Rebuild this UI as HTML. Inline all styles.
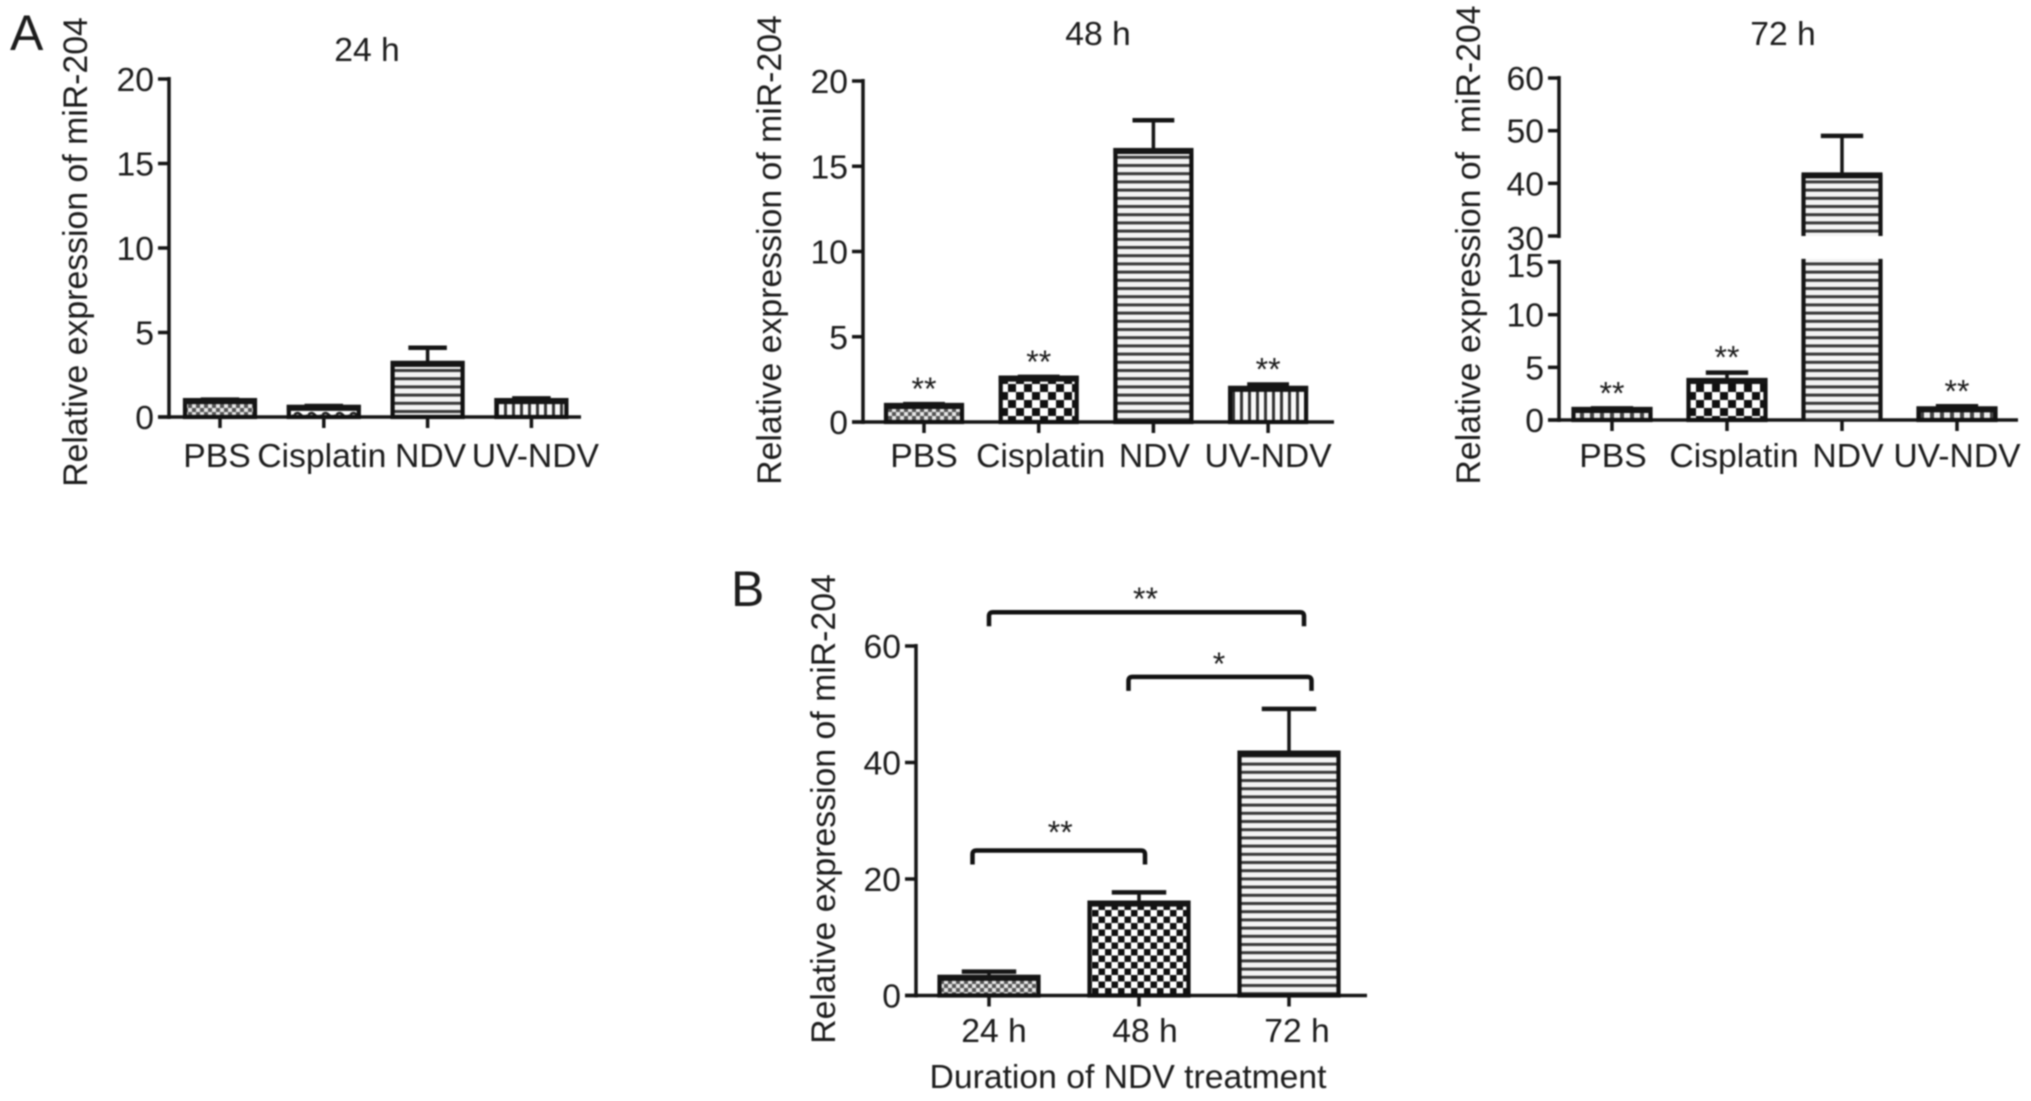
<!DOCTYPE html>
<html lang="en">
<head>
<meta charset="utf-8">
<title>Relative expression of miR-204</title>
<style>
html,body{margin:0;padding:0;background:#fff;width:2031px;height:1101px;overflow:hidden}
svg{display:block;filter:blur(.8px)}
text{font-family:"Liberation Sans",sans-serif;fill:#1c1c1c}
</style>
</head>
<body>
<svg id="figure" xmlns="http://www.w3.org/2000/svg" width="2031" height="1101" viewBox="0 0 2031 1101">
  <defs>
    <pattern id="fine" width="8" height="8" patternUnits="userSpaceOnUse"><rect width="8" height="8" fill="#e6e6e6"/><rect width="4" height="4" fill="#555"/><rect x="4" y="4" width="4" height="4" fill="#555"/></pattern>
    <pattern id="wave" width="14" height="10" patternUnits="userSpaceOnUse"><rect width="14" height="10" fill="#fff"/><path d="M0 5Q3.5 1 7 5T14 5" fill="none" stroke="#222" stroke-width="2.5"/></pattern>
    <pattern id="hlines" width="10" height="8.2" patternUnits="userSpaceOnUse"><rect width="10" height="8.2" fill="#f4f4f4"/><rect width="10" height="3" fill="#383838"/></pattern>
    <pattern id="vlines" width="8" height="10" patternUnits="userSpaceOnUse"><rect width="8" height="10" fill="#fafafa"/><rect width="3" height="10" fill="#333"/></pattern>
    <pattern id="check" width="16" height="16" patternUnits="userSpaceOnUse"><rect width="16" height="16" fill="#fff"/><rect width="8" height="8" fill="#111"/><rect x="8" y="8" width="8" height="8" fill="#111"/></pattern>
    <pattern id="checkB" width="13" height="13" patternUnits="userSpaceOnUse"><rect width="13" height="13" fill="#fff"/><rect width="6.5" height="6.5" fill="#111"/><rect x="6.5" y="6.5" width="6.5" height="6.5" fill="#111"/></pattern>
    <pattern id="vfine" width="10" height="8" patternUnits="userSpaceOnUse"><rect width="10" height="8" fill="#f0f0f0"/><rect width="4" height="8" fill="#444"/></pattern>
  </defs>
  <text x="10" y="50" font-size="50">A</text>
  <text x="731" y="606" font-size="50">B</text>
</svg>
<script>
// ---------- chart data ----------
const categoriesA = ["PBS", "Cisplatin", "NDV", "UV-NDV"];
const means24 = [1.0, 0.6, 3.2, 1.0];
const uppers24 = [1.03, 0.65, 4.1, 1.1];
const means48 = [1.0, 2.6, 15.95, 2.0];
const uppers48 = [1.05, 2.65, 17.7, 2.2];
const means72 = [1.05, 3.8, 41.7, 1.1];
const uppers72 = [1.1, 4.5, 49.0, 1.3];
const ticks24 = [0, 5, 10, 15, 20];
const ticks48 = [0, 5, 10, 15, 20];
const ticks72 = [0, 5, 10, 15, 30, 40, 50, 60];
const categoriesB = ["24 h", "48 h", "72 h"];
const meansB = [3.2, 15.95, 41.7];
const uppersB = [4.1, 17.7, 49.2];
const ticksB = [0, 20, 40, 60];
const significance48 = ["**", "**", "", "**"];
const significance72 = ["**", "**", "", "**"];
const bracketStarts = [0, 0.93, -0.11];
const bracketEnds = [2.1, 2.15, 1.04];
const bracketLevels = [65.8, 54.7, 24.9];
const bracketLabels = ["**", "*", "**"];

// ---------- helpers ----------
const svg = document.getElementById('figure');
const NS = 'http://www.w3.org/2000/svg';
function make(tag, props, parent) {
  const e = document.createElementNS(NS, tag);
  for (const k in props) e.setAttribute(k, props[k]);
  (parent || svg).appendChild(e);
  return e;
}
function line(parent, x1, y1, x2, y2, w) {
  return make('line', {x1: x1, y1: y1, x2: x2, y2: y2, stroke: '#151515', 'stroke-width': w}, parent);
}

function drawPanel(p) {
  const g = make('g', {});
  
  
  const x = i => p.x0 + i * p.step;
  const y = p.y;

  // y axis line(s)
  p.axisSegments.forEach(seg => {
    const a = line(g, p.axisX, y(seg[0]) + 2, p.axisX, y(seg[1]) - 2, 3.5);
    
    
  });
  // x axis line
  const xa = line(g, p.axisX - 11, y(0), p.xEnd, y(0), 3.5);
  
  

  // y ticks
  p.ticks.forEach(v => {
    const t = line(g, p.axisX - 11, y(v), p.axisX, y(v), 3.5);
    
    
    const l = make('text', {x: p.axisX - 15, y: y(v) + 12 + (p.tickDy ? p.tickDy(v) : 0), 'font-size': 33.7, 'text-anchor': 'end'}, g);
    
    
    l.textContent = v;
  });

  // bars
  p.categories.forEach((c, i) => {
    const cx = x(i), left = cx - p.barW / 2, fill = 'url(#' + p.patterns[i] + ')';
    p.barSegments(p.means[i]).forEach(seg => {
      const top = y(seg[1]), bottom = y(seg[0]);
      const r = make('rect', {x: left, y: top, width: p.barW, height: Math.max(bottom - top, 0), fill: fill, stroke: '#111', 'stroke-width': seg[2] ? 0 : 4.2}, g);
      
      
      if (seg[2]) {
        const sideL = line(g, left, top, left, bottom, 4.2);
        
        
        const sideR = line(g, left + p.barW, top, left + p.barW, bottom, 4.2);
        
        
      }
      if (seg[1] === p.means[i]) {
        const topEdge = line(g, left - 2, top + 1, left + p.barW + 2, top + 1, 6);
        
        
      }
    });
    // error bar
    const capW = p.barW * 0.55, ey = y(p.uppers[i]);
    const stem = line(g, cx, y(p.means[i]), cx, ey, 3.5);
    
    
    const cap = line(g, cx - capW / 2, ey, cx + capW / 2, ey, 4.5);
    
    
    // x tick
    const xt = line(g, cx, y(0), cx, y(0) + 11, 3.5);
    
    
    // x label
    const xl = make('text', {x: cx + p.labelDx[i], y: p.labelY, 'font-size': 33.7, 'text-anchor': 'middle'}, g);
    
    
    xl.textContent = c;
    // significance
    if (p.significance && p.significance[i]) {
      const s = make('text', {x: cx, y: ey - 4, 'font-size': 32, 'text-anchor': 'middle'}, g);
      
      
      s.textContent = p.significance[i];
    }
  });

  // y axis title
  const yt = make('text', {transform: 'translate(' + p.yTitle[0] + ',' + p.yTitle[1] + ') rotate(-90)', 'font-size': 33.8, 'text-anchor': 'middle'}, g);
  
  
  yt.textContent = p.yTitleText || 'Relative expression of miR-204';

  // title
  if (p.title) {
    const tt = make('text', {x: p.title[1], y: p.title[2], 'font-size': 33.7, 'text-anchor': 'middle'}, g);
    
    
    tt.textContent = p.title[0];
  }
  return {g: g, x: x, y: y};
}

function linear(zeroPx, topPx, maxV) {
  return v => zeroPx - (zeroPx - topPx) * v / maxV;
}
const whole = v => [[0, v, false]];

// broken axis for the 72 h panel
const y72low = linear(420, 262, 15);
const y72high = v => 236 - (v - 30) * (236 - 78) / 30;
const y72 = v => v <= 15.5 ? y72low(v) : (v >= 30 ? y72high(v) : y72low(15.5));

drawPanel({
  name: 'chart-24h', categories: categoriesA, means: means24, uppers: uppers24, ticks: ticks24,
  axisX: 169, xEnd: 581, x0: 220, step: 103.8, barW: 70, y: linear(417, 79, 20),
  axisSegments: [[0, 20]], barSegments: whole, patterns: ['fine', 'wave', 'hlines', 'vlines'],
  labelDx: [-3, -2, 3, 4], labelY: 467, yTitle: [87, 252], title: ['24 h', 367, 61]
});
drawPanel({
  name: 'chart-48h', categories: categoriesA, means: means48, uppers: uppers48, ticks: ticks48,
  axisX: 863, xEnd: 1334, x0: 924, step: 114.7, barW: 76, y: linear(422, 81, 20),
  axisSegments: [[0, 20]], barSegments: whole, patterns: ['fine', 'check', 'hlines', 'vlines'],
  significance: significance48,
  labelDx: [0, 2, 1, 0], labelY: 467, yTitle: [781, 250], title: ['48 h', 1098, 45]
});
drawPanel({
  name: 'chart-72h', categories: categoriesA, means: means72, uppers: uppers72, ticks: ticks72,
  axisX: 1559, xEnd: 2018, x0: 1612, step: 115, barW: 77, y: y72,
  axisSegments: [[0, 15], [30, 60]],
  barSegments: v => v > 30 ? [[0, 15.3, true], [30, v, true]] : [[0, v, false]],
  patterns: ['vfine', 'check', 'hlines', 'vfine'],
  significance: significance72,
  tickDy: v => v === 30 ? 2 : (v === 15 ? 3 : 0),
  labelDx: [1, 7, 6, 0], labelY: 467, yTitle: [1480, 245], yTitleText: 'Relative expression of\u00a0\u00a0miR-204', title: ['72 h', 1783, 45]
});
const panelB = drawPanel({
  name: 'chart-duration', categories: categoriesB, means: meansB, uppers: uppersB, ticks: ticksB,
  axisX: 916, xEnd: 1367, x0: 989, step: 150, barW: 99, y: linear(995.5, 646, 60),
  axisSegments: [[0, 60]], barSegments: whole, patterns: ['fine', 'checkB', 'hlines'],
  labelDx: [5, 6, 8], labelY: 1042, yTitle: [835, 809]
});

// x axis title of panel B
const xTitleB = make('text', {x: 1128, y: 1088, 'font-size': 33.7, 'text-anchor': 'middle'}, panelB.g);


xTitleB.textContent = 'Duration of NDV treatment';

// significance brackets of panel B
const bracketLift = [4, 4, 9];
const bracketStarDx = [-1, -1, 1.5];
bracketLevels.forEach((lvl, i) => {
  const xa = panelB.x(bracketStarts[i]), xb = panelB.x(bracketEnds[i]), yy = panelB.y(lvl);
  const b = make('path', {d: 'M' + xa + ' ' + (yy + 14) + 'V' + (yy + 4) + 'Q' + xa + ' ' + yy + ' ' + (xa + 4) + ' ' + yy + 'H' + (xb - 4) + 'Q' + xb + ' ' + yy + ' ' + xb + ' ' + (yy + 4) + 'V' + (yy + 14), fill: 'none', stroke: '#111', 'stroke-width': 4.5}, panelB.g);
  
  
  const s = make('text', {x: (xa + xb) / 2 + bracketStarDx[i], y: yy + 2 - bracketLift[i], 'font-size': 32, 'text-anchor': 'middle'}, panelB.g);
  
  
  s.textContent = bracketLabels[i];
});
</script>
</body>
</html>
